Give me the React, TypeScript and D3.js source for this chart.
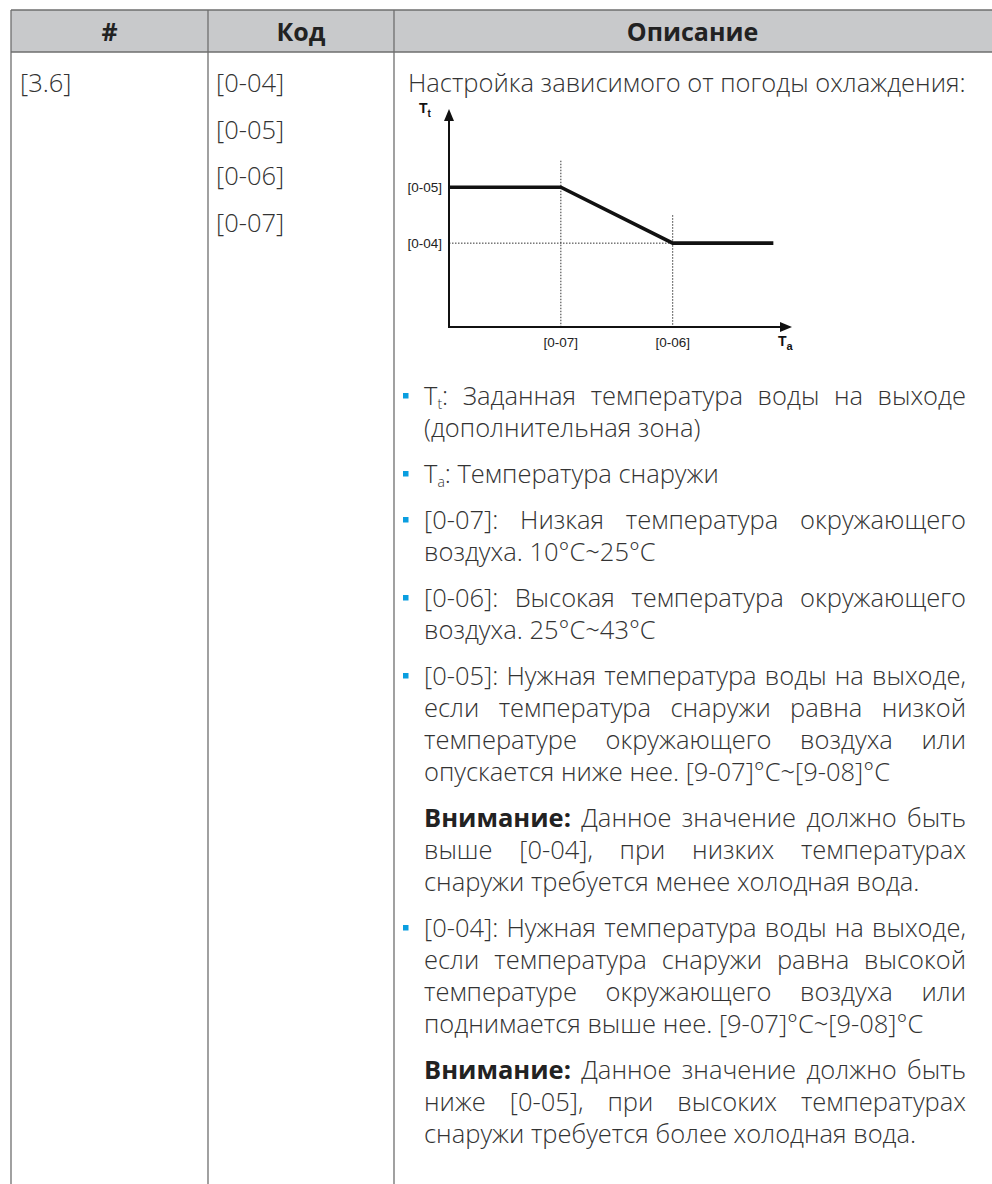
import React, { useMemo } from "react";
import * as d3 from "d3";

// ---------- data ----------
const headerLabels = ["#", "Код", "Описание"];
const menuIds = ["[3.6]"];
const codes = ["[0-04]", "[0-05]", "[0-06]", "[0-07]"];
const introText = "Настройка зависимого от погоды охлаждения:";

// chart (abstract units)
const curveTa = [0, 3, 6, 8.7];
const curveTt = [5, 5, 3, 3];
const xTickLabels = ["[0-07]", "[0-06]"];
const xTickValues = [3, 6];
const xGuideTops = [5.95, 4.0];
const yTickLabels = ["[0-04]", "[0-05]"];
const yTickValues = [3, 5];
const xAxisMax = 9.2;
const yAxisMax = 7.8;

// description paragraphs (lines as in the reference)
const para1 = ["T_{t}: Заданная температура воды на выходе", "(дополнительная зона)"];
const para2 = ["T_{a}: Температура снаружи"];
const para3 = ["[0-07]: Низкая температура окружающего", "воздуха. 10°C~25°C"];
const para4 = ["[0-06]: Высокая температура окружающего", "воздуха. 25°C~43°C"];
const para5 = [
  "[0-05]: Нужная температура воды на выходе,",
  "если температура снаружи равна низкой",
  "температуре окружающего воздуха или",
  "опускается ниже нее. [9-07]°C~[9-08]°C",
];
const para6 = [
  "**Внимание:** Данное значение должно быть",
  "выше [0-04], при низких температурах",
  "снаружи требуется менее холодная вода.",
];
const para7 = [
  "[0-04]: Нужная температура воды на выходе,",
  "если температура снаружи равна высокой",
  "температуре окружающего воздуха или",
  "поднимается выше нее. [9-07]°C~[9-08]°C",
];
const para8 = [
  "**Внимание:** Данное значение должно быть",
  "ниже [0-05], при высоких температурах",
  "снаружи требуется более холодная вода.",
];
const paragraphs = [para1, para2, para3, para4, para5, para6, para7, para8];
const bulleted = [true, true, true, true, true, false, true, false];

// ---------- styles ----------
const FONT = "'Open Sans', 'Noto Sans', sans-serif";
const SIZE = 25.5;
const SUB = 14;
const SUB_DY = 4;
const TEXT = "#333333";
const BORDER = "#6e6e6e";
const HEADER_BG = "#c8c9cb";
const BULLET = "#0a9ee0";

type Seg = { t: string; s: "n" | "b" | "sub" };

function parseWord(w: string): Seg[] {
  const segs: Seg[] = [];
  const re = /\*\*(.+?)\*\*|_\{(.+?)\}/g;
  let last = 0;
  let m;
  while ((m = re.exec(w))) {
    if (m.index > last) segs.push({ t: w.slice(last, m.index), s: "n" });
    if (m[1] !== undefined) segs.push({ t: m[1], s: "b" });
    else segs.push({ t: m[2], s: "sub" });
    last = re.lastIndex;
  }
  if (last < w.length) segs.push({ t: w.slice(last), s: "n" });
  return segs;
}

let ctx: CanvasRenderingContext2D | null = null;
function fontOf(s: string) {
  if (s === "b") return `700 ${SIZE}px ${FONT}`;
  if (s === "sub") return `300 ${SUB}px ${FONT}`;
  return `300 ${SIZE}px ${FONT}`;
}
function measure(t: string, s: string) {
  if (!ctx) ctx = document.createElement("canvas").getContext("2d");
  ctx!.font = fontOf(s);
  return ctx!.measureText(t).width;
}

function Word({ segs, x, y }: { segs: Seg[]; x: number; y: number }) {
  let prevSub = false;
  return (
    <text x={x} y={y} fontFamily={FONT} fontSize={SIZE} fontWeight={300} fill={TEXT}>
      {segs.map((sg, i) => {
        const isSub = sg.s === "sub";
        const dy = isSub && !prevSub ? SUB_DY : !isSub && prevSub ? -SUB_DY : 0;
        prevSub = isSub;
        return (
          <tspan
            key={i}
            dy={dy || undefined}
            fontSize={isSub ? SUB : undefined}
            fontWeight={sg.s === "b" ? 700 : undefined}
            fill={sg.s === "b" ? "#222" : undefined}
          >
            {sg.t}
          </tspan>
        );
      })}
    </text>
  );
}

function JustLine({ line, x, y, width, justify }: { line: string; x: number; y: number; width: number; justify: boolean }) {
  const words = line.split(" ").map(parseWord);
  const widths = words.map((ws) => ws.reduce((a, sg) => a + measure(sg.t, sg.s), 0));
  const total = widths.reduce((a, b) => a + b, 0);
  const space = measure(" ", "n");
  const gap = justify && words.length > 1 ? (width - total) / (words.length - 1) : space;
  let cx = x;
  return (
    <g>
      {words.map((ws, i) => {
        const el = <Word key={i} segs={ws} x={cx} y={y} />;
        cx += widths[i] + gap;
        return el;
      })}
    </g>
  );
}

function Chart() {
  const x0 = 449;
  const y0 = 327;
  const x = d3.scaleLinear().domain([0, xAxisMax]).range([x0, 792]);
  const y = d3.scaleLinear().domain([0, yAxisMax]).range([y0, 109]);
  const line = d3
    .line<number>()
    .x((_, i) => x(curveTa[i]))
    .y((d) => y(d));
  const cf = "'Liberation Sans', Arial, sans-serif";
  const xEnd = x(xAxisMax);
  const yEnd = y(yAxisMax);
  return (
    <g>
      {xTickValues.map((v, i) => (
        <line key={"gv" + i} x1={x(v)} x2={x(v)} y1={y(xGuideTops[i])} y2={y0} stroke="#333" strokeWidth={1} strokeDasharray="1.5,1.5" />
      ))}
      <line x1={x0} x2={x(xTickValues[1])} y1={y(yTickValues[0])} y2={y(yTickValues[0])} stroke="#333" strokeWidth={1} strokeDasharray="1.5,1.5" />
      <line x1={x0} x2={x0} y1={y0 + 1} y2={yEnd + 8} stroke="#111" strokeWidth={2} />
      <line x1={x0 - 1} x2={xEnd - 8} y1={y0} y2={y0} stroke="#111" strokeWidth={2} />
      <path d={`M${x0},${yEnd} L${x0 - 5},${yEnd + 12} L${x0 + 5},${yEnd + 12} Z`} fill="#111" />
      <path d={`M${xEnd},${y0} L${xEnd - 12},${y0 - 5} L${xEnd - 12},${y0 + 5} Z`} fill="#111" />
      <path d={line(curveTt) || ""} fill="none" stroke="#111" strokeWidth={3.6} />
      {yTickValues.map((v, i) => (
        <text key={"yl" + i} x={x0 - 7} y={y(v) + 5} textAnchor="end" fontFamily={cf} fontSize={13.5} fill="#222">
          {yTickLabels[i]}
        </text>
      ))}
      {xTickValues.map((v, i) => (
        <text key={"xl" + i} x={x(v)} y={y0 + 20} textAnchor="middle" fontFamily={cf} fontSize={13.5} fill="#222">
          {xTickLabels[i]}
        </text>
      ))}
      <text x={419} y={113} fontFamily={cf} fontSize={14} fontWeight={700} fill="#111">
        T<tspan fontSize={10} dy={4}>t</tspan>
      </text>
      <text x={778} y={346} fontFamily={cf} fontSize={14} fontWeight={700} fill="#111">
        T<tspan fontSize={11} dy={4}>a</tspan>
      </text>
    </g>
  );
}

export default function App() {
  const W = 992;
  const H = 1184;
  const left = 11;
  const top = 10;
  const headBottom = 52;
  const c1 = 208;
  const c2 = 394;
  const right = 1000;
  const headerCenters = [(left + c1) / 2, (c1 + c2) / 2, (c2 + 991) / 2];
  const headFont = "'Open Sans', sans-serif";

  const textX = 424;
  const textRight = 966;
  const lineH = 32;
  const paraGap = 46;

  const layout = useMemo(() => {
    const res: { lines: string[]; y: number; bullet: boolean }[] = [];
    let yb = 405;
    paragraphs.forEach((p, i) => {
      res.push({ lines: p, y: yb, bullet: bulleted[i] });
      yb += (p.length - 1) * lineH + paraGap;
    });
    return res;
  }, []);

  return (
    <svg width={W} height={H} style={{ position: "absolute", left: 0, top: 0, background: "#fff" }}>
      <rect x={left} y={top} width={right - left} height={headBottom - top} fill={HEADER_BG} />
      <line x1={left} x2={right} y1={top} y2={top} stroke={BORDER} strokeWidth={1.3} />
      <line x1={left} x2={right} y1={headBottom} y2={headBottom} stroke={BORDER} strokeWidth={1.3} />
      {[left, c1, c2].map((xx, i) => (
        <line key={i} x1={xx} x2={xx} y1={top} y2={H} stroke={BORDER} strokeWidth={1.3} />
      ))}
      {headerLabels.map((h, i) => (
        <text
          key={h}
          x={headerCenters[i]}
          y={41}
          textAnchor="middle"
          fontFamily={headFont}
          fontWeight={700}
          fontSize={25}
          fill="#222"
        >
          {h}
        </text>
      ))}
      {menuIds.map((m, i) => (
        <text key={m} x={20} y={92 + i * 47} fontFamily={FONT} fontWeight={300} fontSize={SIZE} fill={TEXT}>
          {m}
        </text>
      ))}
      {codes.map((c, i) => (
        <text key={c} x={216} y={92 + i * 46.7} fontFamily={FONT} fontWeight={300} fontSize={SIZE} fill={TEXT}>
          {c}
        </text>
      ))}
      <text x={408} y={92} fontFamily={FONT} fontWeight={300} fontSize={SIZE} fill={TEXT}>
        {introText}
      </text>
      <Chart />
      {layout.map((p, pi) => (
        <g key={pi}>
          {p.bullet && <rect x={403} y={p.y - 12} width={5.5} height={5.5} fill={BULLET} />}
          {p.lines.map((ln, li) => (
            <JustLine
              key={li}
              line={ln}
              x={textX}
              y={p.y + li * lineH}
              width={textRight - textX}
              justify={li < p.lines.length - 1}
            />
          ))}
        </g>
      ))}
    </svg>
  );
}
